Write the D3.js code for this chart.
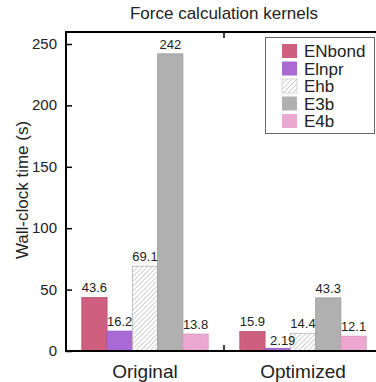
<!DOCTYPE html>
<html>
<head>
<meta charset="utf-8">
<script src="https://cdn.jsdelivr.net/npm/d3@7"></script>
<style>
  body { margin: 0; background: #fff; }
  svg { display: block; font-family: "Liberation Sans", Arial, sans-serif; }
</style>
</head>
<body>
<div id="chart"></div>
<script>
  var groups = ['Original', 'Optimized'];
  var kernels = ['ENbond', 'Elnpr', 'Ehb', 'E3b', 'E4b'];
  var original = [43.6, 16.2, 69.1, 242, 13.8];
  var optimized = [15.9, 2.19, 14.4, 43.3, 12.1];
  var yTicks = [0, 50, 100, 150, 200, 250];
  var fills = ['#cf5f7e', '#a96ad6', 'url(#hatch)', '#b0b0b0', '#eba9d1'];
  var strokes = ['#b9546f', '#9459c0', '#b5b5b5', '#9e9e9e', '#d896bd'];

  // note: "top" is reserved on window, so plot edges get their own names
  var width = 376, height = 382
    , plotLeft = 66, plotRight = 382, plotTop = 32, plotBottom = 351;

  var svg = d3.select('#chart').append('svg')
      .attr('width', width)
      .attr('height', height);

  var pat = svg.append('defs').append('pattern')
      .attr('id', 'hatch')
      .attr('patternUnits', 'userSpaceOnUse')
      .attr('width', 3.4).attr('height', 3.4)
      .attr('patternTransform', 'rotate(45)');
  pat.append('rect').attr('width', 3.4).attr('height', 3.4).attr('fill', '#fff');
  pat.append('line').attr('x1', 0).attr('y1', 0).attr('x2', 0).attr('y2', 3.4)
      .attr('stroke', '#b8b8b8').attr('stroke-width', 1.3);

  var x0 = d3.scaleBand().domain(groups).range([plotLeft, plotRight]);
  var x1 = d3.scaleBand().domain(kernels).range([0, x0.bandwidth() * 0.8]);
  var y = d3.scaleLinear().domain([0, 250]).range([plotBottom, 44]);

  var rows = groups.map(function (g, i) {
    var vals = i === 0 ? original : optimized;
    return kernels.map(function (k, j) { return {group: g, kernel: k, value: vals[j], idx: j}; });
  });

  // title
  svg.append('text')
      .attr('x', 224).attr('y', 19)
      .attr('text-anchor', 'middle')
      .attr('font-size', 17)
      .attr('fill', '#222')
      .text('Force calculation kernels');

  // y label
  svg.append('text')
      .attr('transform', 'translate(28,190) rotate(-90)')
      .attr('text-anchor', 'middle')
      .attr('font-size', 17)
      .attr('fill', '#222')
      .text('Wall-clock time (s)');

  var g = svg.selectAll('g.grp')
    .data(rows)
    .enter().append('g')
      .attr('class', 'grp')
      .attr('transform', function (d, i) {
        return 'translate(' + (x0(groups[i]) + x0.bandwidth() * 0.1) + ',0)';
      });

  g.selectAll('rect')
    .data(function (d) { return d; })
    .enter().append('rect')
      .attr('x', function (d) { return x1(d.kernel); })
      .attr('width', x1.bandwidth())
      .attr('y', function (d) { return y(d.value); })
      .attr('height', function (d) { return plotBottom - y(d.value); })
      .attr('fill', function (d) { return fills[d.idx]; })
      .attr('stroke', function (d) { return strokes[d.idx]; })
      .attr('stroke-width', 0.8);

  g.selectAll('text.val')
    .data(function (d) { return d; })
    .enter().append('text')
      .attr('class', 'val')
      .attr('x', function (d) {
        var cx = x1(d.kernel) + x1.bandwidth() / 2;
        return d.value === 2.19 ? cx + 5 : cx;
      })
      .attr('y', function (d) { return d.value === 2.19 ? y(d.value) - 3 : y(d.value) - 5; })
      .attr('text-anchor', 'middle')
      .attr('font-size', 13)
      .attr('fill', '#222')
      .text(function (d) { return d.value; });

  // frame: left, bottom, top
  svg.append('line').attr('x1', plotLeft).attr('x2', plotLeft).attr('y1', plotTop - 1).attr('y2', plotBottom + 1)
      .attr('stroke', '#000').attr('stroke-width', 2);
  svg.append('line').attr('x1', plotLeft - 1).attr('x2', width).attr('y1', plotBottom).attr('y2', plotBottom)
      .attr('stroke', '#000').attr('stroke-width', 2);
  svg.append('line').attr('x1', plotLeft - 1).attr('x2', width).attr('y1', plotTop).attr('y2', plotTop)
      .attr('stroke', '#000').attr('stroke-width', 2);

  var yAxis = svg.append('g')
      .attr('transform', 'translate(' + plotLeft + ',0)')
      .call(d3.axisRight(y).tickValues(yTicks).tickSize(6).tickFormat(''));
  yAxis.select('.domain').remove();
  yAxis.selectAll('line').attr('stroke-width', 1.5);

  svg.selectAll('text.ytick')
    .data(yTicks)
    .enter().append('text')
      .attr('class', 'ytick')
      .attr('x', 57)
      .attr('y', function (d) { return y(d) + 5; })
      .attr('text-anchor', 'end')
      .attr('font-size', 15)
      .attr('fill', '#222')
      .text(function (d) { return d; });

  // category separator ticks
  var sep = x0('Optimized');
  svg.append('line').attr('x1', sep).attr('x2', sep).attr('y1', plotBottom).attr('y2', plotBottom - 6)
      .attr('stroke', '#000').attr('stroke-width', 1.5);
  svg.append('line').attr('x1', sep).attr('x2', sep).attr('y1', plotTop).attr('y2', plotTop + 6)
      .attr('stroke', '#000').attr('stroke-width', 1.5);

  svg.selectAll('text.cat')
    .data(groups)
    .enter().append('text')
      .attr('class', 'cat')
      .attr('x', function (d) { return x0(d) + x0.bandwidth() / 2; })
      .attr('y', 378)
      .attr('text-anchor', 'middle')
      .attr('font-size', 19)
      .attr('fill', '#222')
      .text(function (d) { return d; });

  // legend
  var leg = svg.append('g');
  leg.append('rect')
      .attr('x', 265.5).attr('y', 37.5).attr('width', 109).attr('height', 96)
      .attr('fill', '#fff').attr('stroke', '#666').attr('stroke-width', 1);
  var item = leg.selectAll('g.item')
    .data(kernels)
    .enter().append('g')
      .attr('class', 'item')
      .attr('transform', function (d, i) { return 'translate(282,' + (44 + i * 17.5) + ')'; });
  item.append('rect')
      .attr('width', 15).attr('height', 14)
      .attr('fill', function (d, i) { return fills[i]; })
      .attr('stroke', function (d, i) { return i === 2 ? '#ccc' : 'none'; })
      .attr('stroke-width', 0.8);
  item.append('text')
      .attr('x', 22).attr('y', 13)
      .attr('font-size', 17)
      .attr('fill', '#222')
      .text(function (d) { return d; });
</script>
</body>
</html>
